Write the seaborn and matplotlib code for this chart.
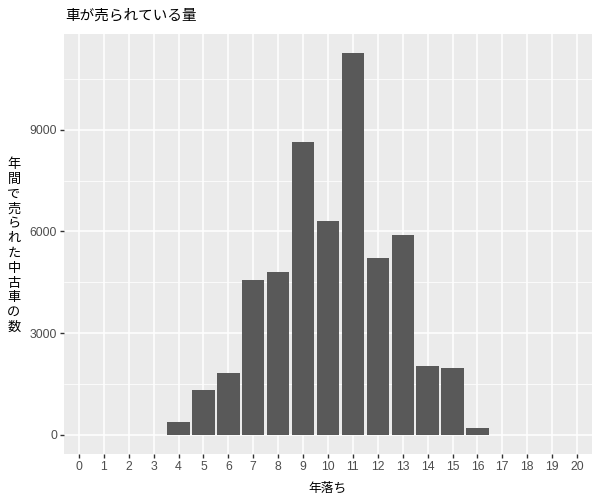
import pandas as pd
import matplotlib
matplotlib.use('Agg')
import matplotlib.pyplot as plt
import seaborn as sns
from matplotlib.ticker import MultipleLocator

# データ
years = list(range(0, 21))
counts = [0, 0, 0, 0, 380, 1320, 1820, 4560, 4790, 8650, 6320, 11260,
          5210, 5910, 2030, 1970, 205, 0, 0, 0, 0]
y_ticks = [0, 3000, 6000, 9000]

df = pd.DataFrame({'year': [str(y) for y in years], 'count': counts})

sns.set_style('darkgrid')
plt.rcParams['font.family'] = ['Noto Sans CJK JP', 'DejaVu Sans']

fig = plt.figure(figsize=(6, 5), dpi=100)
ax = fig.add_axes([64 / 600, 1 - 454 / 500, 528 / 600, 420 / 500])
ax.set_facecolor('#EBEBEB')

sns.barplot(x='year', y='count', data=df, order=[str(y) for y in years],
            color='#595959', saturation=1, width=0.9, linewidth=0, ax=ax)

ax.set_xlim(-0.6, 20.6)
ymax = max(counts)
ax.set_ylim(-0.05 * ymax, 1.05 * ymax)
ax.set_yticks(y_ticks)
ax.yaxis.set_minor_locator(MultipleLocator(1500))

ax.grid(which='major', color='white', linewidth=1.1)
ax.grid(which='minor', axis='y', color='white', linewidth=0.55)
ax.set_axisbelow(True)
for s in ax.spines.values():
    s.set_visible(False)

ax.tick_params(axis='both', which='major', bottom=True, left=True,
               length=3, width=1, color='#333333',
               labelcolor='#4D4D4D', labelsize=8.8, pad=2)
ax.tick_params(axis='both', which='minor', length=0)
for lab in ax.get_xticklabels() + ax.get_yticklabels():
    lab.set_family(['Liberation Sans', 'DejaVu Sans'])

ax.set_xlabel('')
ax.set_ylabel('')

fig.text(65 / 600, 1 - 16 / 500, '車が売られている量', fontsize=10.5,
         ha='left', va='center', color='black')
fig.text(328 / 600, 1 - 488 / 500, '年落ち', fontsize=9.2,
         ha='center', va='center', color='black')
fig.text(14 / 600, 1 - 246 / 500, '\n'.join('年間で売られた中古車の数'),
         fontsize=9.5, ha='center', va='center', color='black', linespacing=1.18)

plt.savefig('out.png', dpi=100)
